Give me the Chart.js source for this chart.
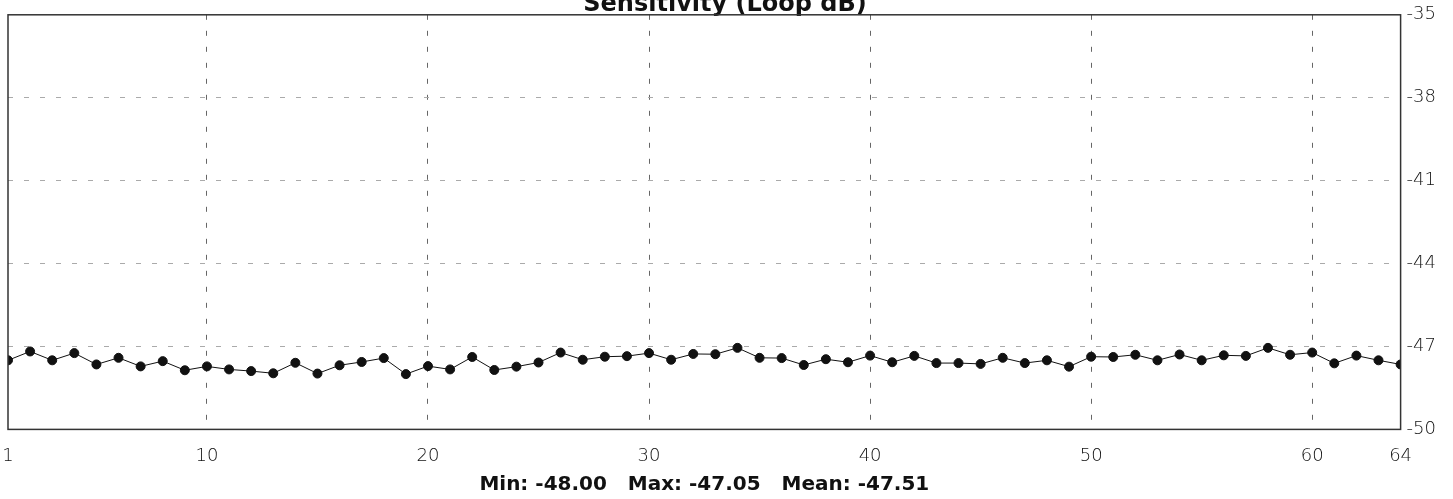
<!DOCTYPE html>
<html>
<head>
<meta charset="utf-8">
<script src="https://cdn.jsdelivr.net/npm/chart.js@4"></script>
<style>
    html, body { margin: 0; padding: 0; background: #fff; overflow: hidden; }
    #wrap { position: absolute; left: 0; top: -12px; width: 1453px; height: 511px; }
</style>
</head>
<body>
<div id="wrap"><canvas id="sensChart"></canvas></div>
<script>
// channel numbers along the bottom
const channels = [
    1, 2, 3, 4, 5, 6, 7, 8, 9, 10, 11, 12, 13, 14, 15, 16,
    17, 18, 19, 20, 21, 22, 23, 24, 25, 26, 27, 28, 29, 30, 31, 32,
    33, 34, 35, 36, 37, 38, 39, 40, 41, 42, 43, 44, 45, 46, 47, 48,
    49, 50, 51, 52, 53, 54, 55, 56, 57, 58, 59, 60, 61, 62, 63, 64
];
// loop sensitivity, dB
const sensitivity = [
    -47.50, -47.18, -47.50, -47.24, -47.65, -47.41, -47.72, -47.53,
    -47.86, -47.72, -47.83, -47.89, -47.97, -47.59, -47.98, -47.68,
    -47.56, -47.42, -48.00, -47.71, -47.83, -47.38, -47.85, -47.73,
    -47.58, -47.22, -47.48, -47.37, -47.35, -47.24, -47.48, -47.27,
    -47.28, -47.05, -47.41, -47.42, -47.67, -47.46, -47.57, -47.33,
    -47.57, -47.34, -47.60, -47.60, -47.63, -47.41, -47.60, -47.50,
    -47.73, -47.37, -47.38, -47.30, -47.50, -47.29, -47.50, -47.32,
    -47.34, -47.05, -47.30, -47.22, -47.61, -47.33, -47.50, -47.65
];
const xTicks = [1, 10, 20, 30, 40, 50, 60, 64];
const yTicks = [-50, -47, -44, -41, -38, -35];
const chartTitle = 'Sensitivity (Loop dB)';
const statsLine = 'Min: -48.00   Max: -47.05   Mean: -47.51';

const titleFont = { family: "'DejaVu Sans', sans-serif", size: 24, weight: 'bold' };
const tickFont = { family: "'DejaVu Sans', sans-serif", size: 18, weight: '200' };

// solid frame round the plot
const frame = {
    id: 'frame',
    afterDatasetsDraw(chart) {
        const a = chart.chartArea;
        const ctx = chart.ctx;
        ctx.save();
        ctx.strokeStyle = '#333';
        ctx.lineWidth = 1.5;
        ctx.setLineDash([]);
        ctx.strokeRect(a.left, a.top, a.right - a.left, a.bottom - a.top);
        ctx.restore();
    }
};

// min / max / mean line, centred under the plot
const stats = {
    id: 'stats',
    afterDraw(chart) {
        const a = chart.chartArea;
        const ctx = chart.ctx;
        ctx.save();
        ctx.font = "bold 20px 'DejaVu Sans', sans-serif";
        ctx.fillStyle = '#111';
        ctx.textAlign = 'center';
        ctx.textBaseline = 'middle';
        ctx.fillText(statsLine, (a.left + a.right) / 2, a.bottom + 55);
        ctx.restore();
    }
};

const sensCanvas = document.getElementById('sensChart');
const sensChart = new Chart(sensCanvas, {
    type: 'line',
    data: {
        datasets: [{
            data: channels.map((c, i) => ({ x: c, y: sensitivity[i] })),
            borderColor: '#111',
            borderWidth: 1,
            pointBackgroundColor: '#111',
            pointBorderColor: '#111',
            pointRadius: 4.5,
            lineTension: 0
        }]
    },
    options: {
        responsive: true,
        maintainAspectRatio: false,
        animation: false,
        layout: { padding: { left: 8, right: 11, top: 0, bottom: 16 } },
        plugins: {
            legend: { display: false },
            tooltip: { enabled: false },
            title: {
                display: true,
                text: chartTitle,
                color: '#111',
                font: titleFont,
                padding: { top: 2, bottom: -4 }
            }
        },
        scales: {
            x: {
                type: 'linear',
                min: 1,
                max: 64,
                afterBuildTicks: axis => { axis.ticks = xTicks.map(v => ({ value: v })); },
                afterFit: axis => { axis.paddingLeft = 0; axis.paddingRight = 0; },
                ticks: { color: '#111', font: tickFont, padding: 16, maxRotation: 0 },
                grid: {
                    drawTicks: false,
                    color: c => (c.tick && (c.tick.value === 1 || c.tick.value === 64)) ? 'rgba(0,0,0,0)' : '#666',
                    lineWidth: 1
                },
                border: { display: false, dash: [5, 11] }
            },
            y: {
                position: 'right',
                min: -50,
                max: -35,
                afterBuildTicks: axis => { axis.ticks = yTicks.map(v => ({ value: v })); },
                ticks: { color: '#111', font: tickFont, padding: 6 },
                grid: {
                    drawTicks: false,
                    color: c => (c.tick && (c.tick.value === -50 || c.tick.value === -35)) ? 'rgba(0,0,0,0)' : '#aaa',
                    lineWidth: 1
                },
                border: { display: false, dash: [5, 11] }
            }
        }
    },
    plugins: [frame, stats]
});
</script>
</body>
</html>
